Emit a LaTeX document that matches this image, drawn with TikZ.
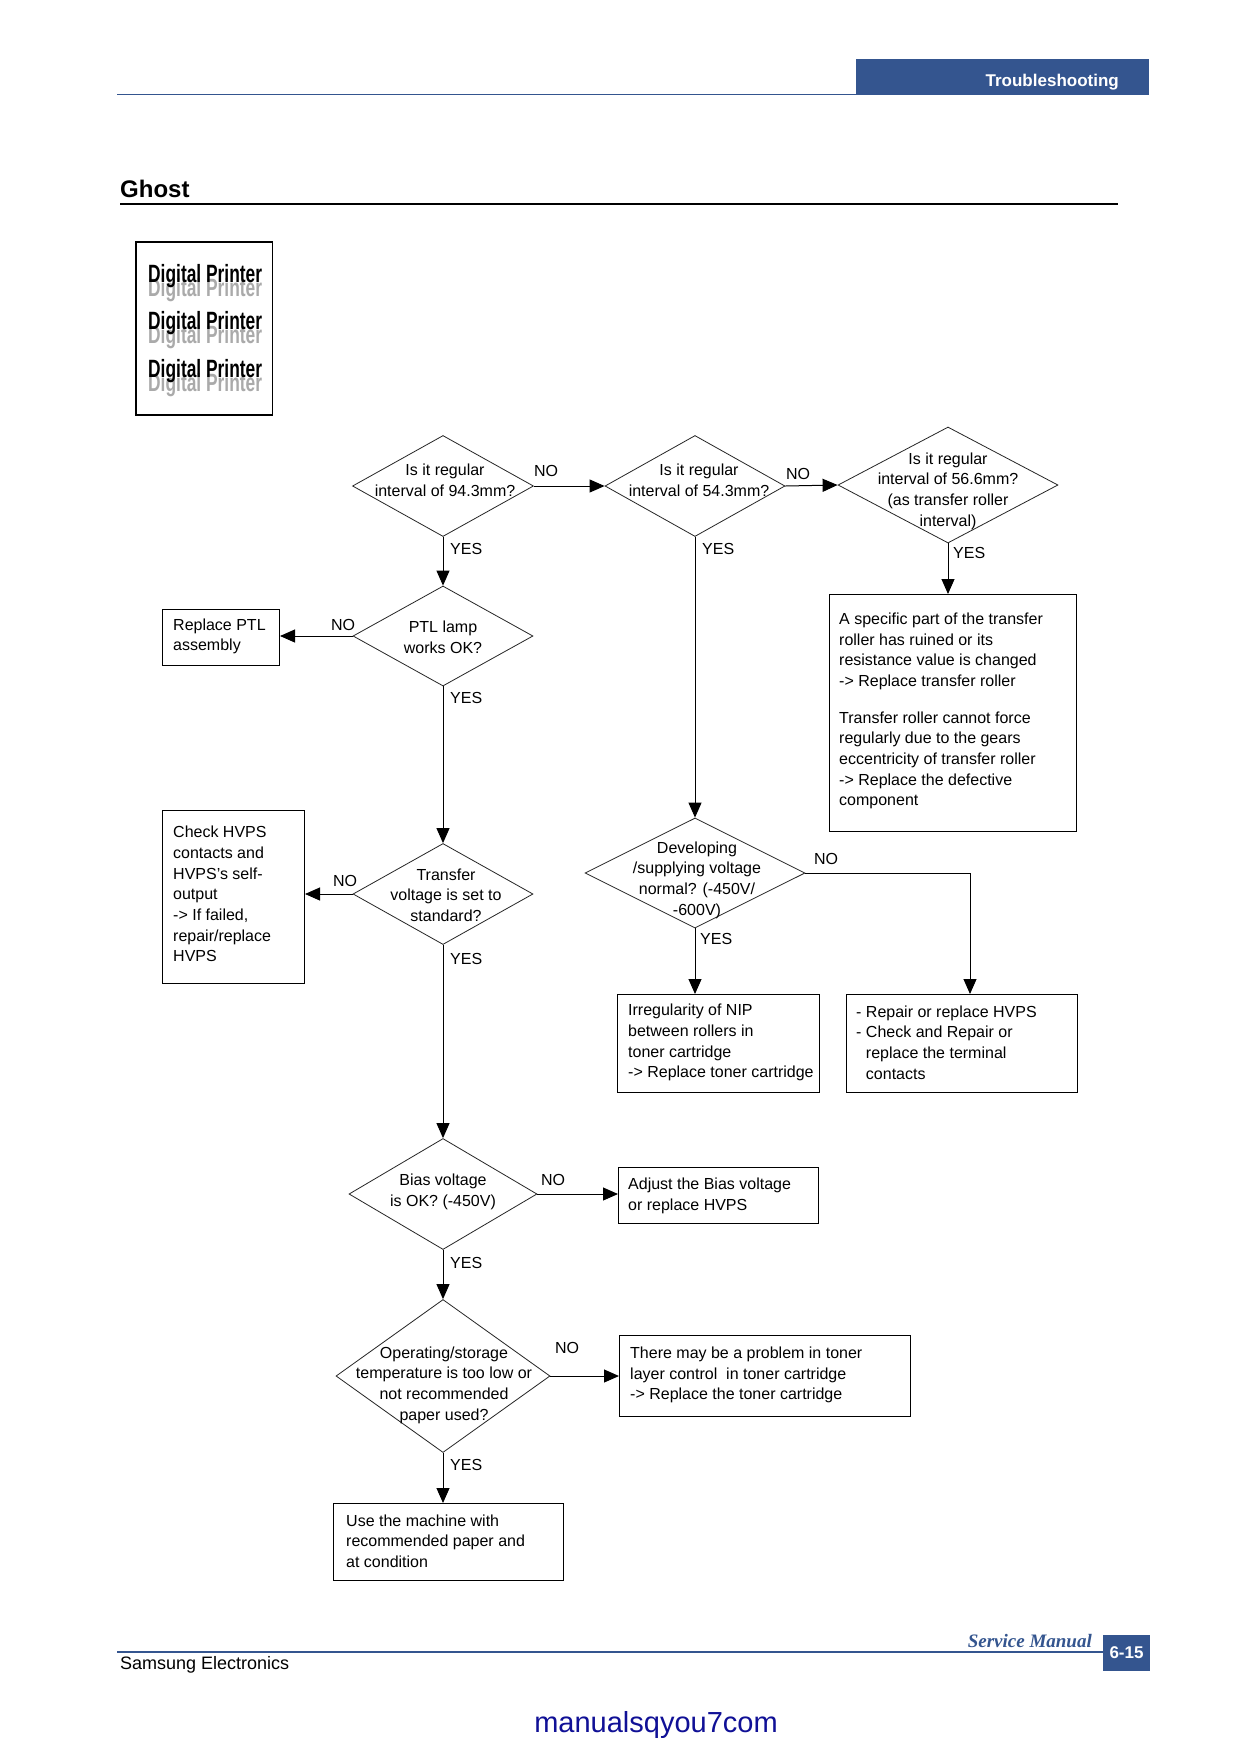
\documentclass[tikz,border=0pt]{standalone}
\usepackage{fontspec}
\setmainfont{Liberation Sans}
\newfontfamily\timesf{Liberation Serif}
\usetikzlibrary{shapes.geometric,arrows.meta}
\definecolor{hdrblue}{RGB}{52,85,143}
\definecolor{linkblue}{RGB}{16,16,150}
\definecolor{ghostgray}{RGB}{170,170,170}
\begin{document}
\begin{tikzpicture}[x=1pt,y=-1pt,
  every node/.style={font=\fontsize{16}{20.7}\selectfont, inner sep=0pt},
  dec/.style={diamond, draw=black!85, line width=0.8pt, inner sep=0pt},
  box/.style={draw=black, line width=1pt, rectangle, anchor=north west, inner sep=0pt},
  btext/.style={anchor=west, align=left},
  ctext/.style={align=center},
  yeslbl/.style={anchor=west},
  nolbl/.style={anchor=center},
  conn/.style={line width=1pt, -{Triangle[length=15pt,width=13pt]}},
  dpfont/.style={anchor=base west, font=\bfseries\fontsize{25}{29}\selectfont},
]
\useasboundingbox (0,0) rectangle (1240,1754);
\fill[white] (0,0) rectangle (1240,1754);

% header
\fill[hdrblue] (856,59) rectangle (1149,95);
\draw[hdrblue, line width=1.2pt] (117,94.3) -- (856,94.3);
\node[anchor=base east, text=white, font=\bfseries\fontsize{17}{20}\selectfont] (hdr) at (1119,86) {Troubleshooting};

% title
\node[anchor=base west, font=\bfseries\fontsize{24}{28}\selectfont] (title) at (120,197) {Ghost};
\draw[black, line width=2pt] (120,203.5) -- (1118,203.5);

% sample image
\draw[black, line width=1.1pt] (136,242) rectangle (272.5,415);
\foreach \yy/\n in {282/1,329.5/2,377/3} {
  \node[dpfont, text=ghostgray] (dpg\n) at (148,\yy+14) {\scalebox{0.695}[1]{Digital Printer}};
  \node[dpfont, text=black] (dpb\n) at (148,\yy) {\scalebox{0.695}[1]{Digital Printer}};
}

% decisions
\node[dec, minimum width=181pt, minimum height=101pt] (d1) at (443,486) {};
\node[dec, minimum width=180pt, minimum height=101pt] (d2) at (695,486) {};
\node[dec, minimum width=220pt, minimum height=116pt] (d3) at (948,485) {};
\node[dec, minimum width=180pt, minimum height=100pt] (ptl) at (443,636) {};
\node[dec, minimum width=180pt, minimum height=101pt] (tr) at (443,894) {};
\node[dec, minimum width=220pt, minimum height=110pt] (dev) at (695,873) {};
\node[dec, minimum width=188pt, minimum height=111pt] (bias) at (443,1194) {};
\node[dec, minimum width=214pt, minimum height=153pt] (op) at (443,1376) {};

\node[ctext] (d1t) at (445,480) {Is it regular\\interval of 94.3mm?};
\node[ctext] (d2t) at (699,480) {Is it regular\\interval of 54.3mm?};
\node[ctext] (d3t) at (948,491) {Is it regular\\interval of 56.6mm?\\(as transfer roller\\interval)};
\node[ctext] (ptlt) at (443,637) {PTL lamp\\works OK?};
\node[ctext] (trt) at (446,895) {Transfer\\voltage is set to\\standard?};
\node[ctext] (devt) at (697,880) {Developing\\/supplying voltage\\normal? (-450V/\\-600V)};
\node[ctext] (biast) at (443,1192) {Bias voltage\\is OK? (-450V)};
\node[ctext] (opt) at (444,1385) {Operating/storage\\temperature is too low or\\not recommended\\paper used?};

% boxes
\node[box, minimum width=117pt, minimum height=56pt] (ptlbox) at (162,609) {};
\node[box, minimum width=142pt, minimum height=173pt] (hvps) at (162,810) {};
\node[box, minimum width=247pt, minimum height=237pt] (tbox) at (829,594) {};
\node[box, minimum width=202pt, minimum height=98pt] (nip) at (617,994) {};
\node[box, minimum width=231pt, minimum height=98pt] (rep) at (846,994) {};
\node[box, minimum width=200pt, minimum height=56pt] (adj) at (618,1167) {};
\node[box, minimum width=291pt, minimum height=81pt] (toner) at (619,1335) {};
\node[box, minimum width=230pt, minimum height=77pt] (use) at (333,1503) {};

\node[btext] (ptlboxt) at ([xshift=11pt,yshift=1pt]ptlbox.west) {Replace PTL\\assembly};
\node[btext] (hvpst) at ([xshift=11pt,yshift=3pt]hvps.west) {Check HVPS\\contacts and\\HVPS's self-\\output\\-> If failed,\\repair/replace\\HVPS};
\node[btext] (tboxt) at ([xshift=10pt,yshift=2pt]tbox.west) {A specific part of the transfer\\roller has ruined or its\\resistance value is changed\\-> Replace transfer roller\\[16pt]Transfer roller cannot force\\regularly due to the gears\\eccentricity of transfer roller\\-> Replace the defective\\component};
\node[btext] (nipt) at ([xshift=11pt,yshift=1pt]nip.west) {Irregularity of NIP\\between rollers in\\toner cartridge\\-> Replace toner cartridge};
\node[btext] (rept) at ([xshift=10pt,yshift=1pt]rep.west) {- Repair or replace HVPS\\- Check and Repair or\\\hphantom{- }replace the terminal\\\hphantom{- }contacts};
\node[btext] (adjt) at ([xshift=10pt,yshift=0pt]adj.west) {Adjust the Bias voltage\\or replace HVPS};
\node[btext] (tonert) at ([xshift=11pt,yshift=1pt]toner.west) {There may be a problem in toner\\layer control~ in toner cartridge\\-> Replace the toner cartridge};
\node[btext] (uset) at ([xshift=13pt,yshift=1pt]use.west) {Use the machine with\\recommended paper and\\at condition};

% connectors
\coordinate (devturn) at (970,873);
\draw[conn] (d1.east) -- (d2.west);
\draw[conn] (d2.east) -- (d3.west);
\draw[conn] (d3.south) -- (d3.south |- tbox.north);
\draw[conn] (d1.south) -- (ptl.north);
\draw[conn] (ptl.west) -- (ptl.west -| ptlbox.east);
\draw[conn] (ptl.south) -- (tr.north);
\draw[conn] (tr.west) -- (tr.west -| hvps.east);
\draw[conn] (d2.south) -- (dev.north);
\draw[conn] (dev.east) -- (devturn) -- (devturn |- rep.north);
\draw[conn] (dev.south) -- (dev.south |- nip.north);
\draw[conn] (tr.south) -- (bias.north);
\draw[conn] (bias.east) -- (bias.east -| adj.west);
\draw[conn] (bias.south) -- (op.north);
\draw[conn] (op.east) -- (op.east -| toner.west);
\draw[conn] (op.south) -- (op.south |- use.north);

% labels
\node[nolbl] (no1) at (546,471) {NO};
\node[nolbl] (no2) at (798,474) {NO};
\node[yeslbl] (yes1) at (450,549) {YES};
\node[yeslbl] (yes2) at (702,549) {YES};
\node[yeslbl] (yes3) at (953,553) {YES};
\node[nolbl] (no3) at (343,625) {NO};
\node[yeslbl] (yes4) at (450,698) {YES};
\node[nolbl] (no4) at (345,881) {NO};
\node[yeslbl] (yes5) at (450,959) {YES};
\node[nolbl] (no5) at (826,859) {NO};
\node[yeslbl] (yes6) at (700,939) {YES};
\node[nolbl] (no6) at (553,1180) {NO};
\node[yeslbl] (yes7) at (450,1263) {YES};
\node[nolbl] (no7) at (567,1348) {NO};
\node[yeslbl] (yes8) at (450,1465) {YES};

% footer
\draw[hdrblue, line width=1.2pt] (117,1652) -- (1103,1652);
\fill[hdrblue] (1103,1635) rectangle (1150,1671);
\node[anchor=base west, font=\fontsize{18}{22}\selectfont] (samsung) at (120,1669) {Samsung Electronics};
\node[anchor=base east, text=hdrblue, font=\timesf\bfseries\itshape\fontsize{19}{22}\selectfont] (sm) at (1092,1647) {Service Manual};
\node[text=white, font=\bfseries\fontsize{17}{20}\selectfont] (pg) at (1126.5,1653) {6-15};
\node[text=linkblue, font=\fontsize{29}{34}\selectfont] (url) at (656,1725) {manualsqyou7com};
\end{tikzpicture}
\end{document}
